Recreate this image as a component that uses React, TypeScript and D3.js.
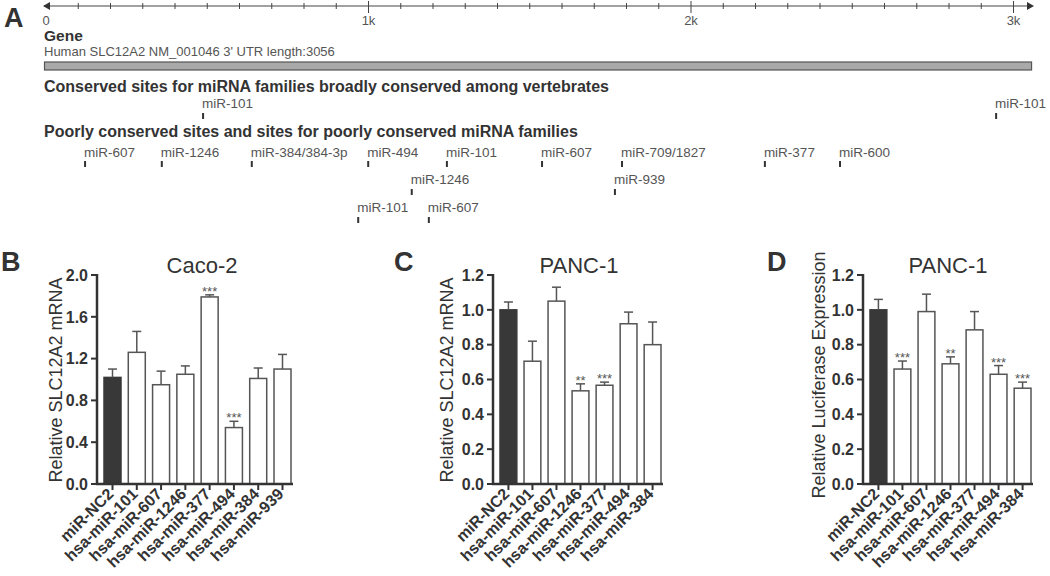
import { useEffect, useRef } from "react"
import * as d3 from "d3"

// panel A: 3' UTR map
const utrLength = 3056
const rulerTicks = [0, 1000, 2000, 3000]
const rulerLabels = ["0", "1k", "2k", "3k"]

const conservedSites = ["miR-101", "miR-101"]
const conservedPos = [484, 2943]

const poorSites = ["miR-607", "miR-1246", "miR-384/384-3p", "miR-494", "miR-101", "miR-1246", "miR-101", "miR-607", "miR-607", "miR-709/1827", "miR-939", "miR-377", "miR-600"]
const poorPos = [118, 356, 635, 996, 1240, 1131, 965, 1184, 1535, 1783, 1761, 2226, 2459]
const poorRow = [0, 0, 0, 0, 0, 1, 2, 2, 0, 0, 1, 0, 0]

// panel B: Caco-2
const caco2Groups = ["miR-NC2", "hsa-miR-101", "hsa-miR-607", "hsa-miR-1246", "hsa-miR-377", "hsa-miR-494", "hsa-miR-384", "hsa-miR-939"]
const caco2Mean = [1.02, 1.26, 0.95, 1.05, 1.79, 0.54, 1.01, 1.10]
const caco2Err = [0.08, 0.2, 0.13, 0.08, 0.02, 0.06, 0.1, 0.14]
const caco2Sig = ["", "", "", "", "***", "***", "", ""]

// panel C: PANC-1 mRNA
const panc1Groups = ["miR-NC2", "hsa-miR-101", "hsa-miR-607", "hsa-miR-1246", "hsa-miR-377", "hsa-miR-494", "hsa-miR-384"]
const panc1Mean = [1.0, 0.705, 1.05, 0.535, 0.567, 0.92, 0.8]
const panc1Err = [0.045, 0.115, 0.08, 0.04, 0.018, 0.067, 0.13]
const panc1Sig = ["", "", "", "**", "***", "", ""]

// panel D: PANC-1 luciferase
const lucMean = [1.0, 0.66, 0.99, 0.69, 0.885, 0.63, 0.55]
const lucErr = [0.06, 0.046, 0.1, 0.04, 0.105, 0.05, 0.035]
const lucSig = ["", "***", "", "**", "", "***", "***"]

const FONT = "'Liberation Sans', Arial, sans-serif"
const dark = "#333"

function drawPanel(svg, o) {
    let g = svg.append("g")
    let x = d3.scaleBand().domain(o.groups).range([o.left + 7, o.right - 2]).paddingInner(0.3),
        y = d3.scaleLinear().domain([0, o.max]).range([o.bottom, o.top])

    // bars
    g.selectAll("rect.bar")
        .data(o.groups)
        .enter()
        .append("rect")
        .attr("x", d => x(d))
        .attr("y", (d, i) => y(o.mean[i]))
        .attr("width", x.bandwidth())
        .attr("height", (d, i) => o.bottom - y(o.mean[i]))
        .attr("fill", (d, i) => i == 0 ? "#383838" : "#fff")
        .attr("stroke", (d, i) => i == 0 ? "#383838" : "#555")
        .attr("stroke-width", 1.5)

    // error bars (upper only)
    o.groups.forEach((d, i) => {
        let cx = x(d) + x.bandwidth() / 2,
            y0 = y(o.mean[i]),
            y1 = y(o.mean[i] + o.err[i])
        g.append("line").attr("x1", cx).attr("x2", cx).attr("y1", y0).attr("y2", y1)
            .attr("stroke", "#555").attr("stroke-width", 1.5)
        g.append("line").attr("x1", cx - 4.5).attr("x2", cx + 4.5).attr("y1", y1).attr("y2", y1)
            .attr("stroke", "#555").attr("stroke-width", 1.5)
        if (o.sig[i]) {
            g.append("text").attr("x", cx).attr("y", y1 + 1)
                .attr("text-anchor", "middle").attr("font-size", 13).attr("fill", "#555")
                .attr("font-family", FONT).text(o.sig[i])
        }
    })

    // y axis
    g.append("line").attr("x1", o.left).attr("x2", o.left).attr("y1", o.top - 1).attr("y2", o.bottom + 1)
        .attr("stroke", dark).attr("stroke-width", 2.5)
    o.ticks.forEach(t => {
        g.append("line").attr("x1", o.left - 6).attr("x2", o.left).attr("y1", y(t)).attr("y2", y(t))
            .attr("stroke", dark).attr("stroke-width", 2)
        g.append("text").attr("x", o.left - 9).attr("y", y(t)).attr("dy", "0.36em")
            .attr("text-anchor", "end").attr("font-size", 16).attr("font-weight", "bold")
            .attr("fill", dark).attr("font-family", FONT).text(d3.format(".1f")(t))
    })

    // x axis
    g.append("line").attr("x1", o.left - 1).attr("x2", o.right).attr("y1", o.bottom).attr("y2", o.bottom)
        .attr("stroke", dark).attr("stroke-width", 2.5)
    o.groups.forEach(d => {
        let cx = x(d) + x.bandwidth() / 2
        g.append("line").attr("x1", cx).attr("x2", cx).attr("y1", o.bottom).attr("y2", o.bottom + 6)
            .attr("stroke", dark).attr("stroke-width", 2)
        g.append("text")
            .attr("transform", `translate(${cx + 2}, ${o.bottom + 11}) rotate(-45)`)
            .attr("text-anchor", "end").attr("font-size", 16).attr("font-weight", "bold")
            .attr("fill", dark).attr("font-family", FONT).text(d)
    })

    // axis title, panel title, letter
    g.append("text")
        .attr("transform", `translate(${o.labelX}, ${o.labelY}) rotate(-90)`)
        .attr("text-anchor", "middle").attr("font-size", 18).attr("fill", dark)
        .attr("font-family", FONT).text(o.ylabel)
    g.append("text").attr("x", o.titleX).attr("y", 273)
        .attr("text-anchor", "middle").attr("font-size", 22).attr("fill", dark)
        .attr("font-family", FONT).text(o.title)
    g.append("text").attr("x", o.letterX).attr("y", 271)
        .attr("font-size", 27).attr("font-weight", "bold").attr("fill", dark)
        .attr("font-family", FONT).text(o.letter)
}

export default function App() {
    let svgRef = useRef(),
        width = 1050,
        height = 576

    useEffect(() => {
        let svg = d3.select(svgRef.current)
        svg.selectAll("*").remove()

        // ---- panel A ----
        let a = svg.append("g"),
            xs = d3.scaleLinear().domain([0, 3000]).range([46, 1013.5]),
            rulerY = 6

        a.append("text").attr("x", 4).attr("y", 27).attr("font-size", 27).attr("font-weight", "bold")
            .attr("fill", dark).attr("font-family", FONT).text("A")

        a.append("line").attr("x1", 44).attr("x2", 1030).attr("y1", rulerY).attr("y2", rulerY)
            .attr("stroke", "#444").attr("stroke-width", 1.2)
        a.append("path").attr("d", `M43,${rulerY} L50,${rulerY - 4} L50,${rulerY + 4} Z`).attr("fill", "#333")
        a.append("path").attr("d", `M1034,${rulerY} L1027,${rulerY - 4} L1027,${rulerY + 4} Z`).attr("fill", "#333")
        d3.range(100, 3100, 100).forEach(t => {
            let major = t % 1000 == 0
            a.append("line").attr("x1", xs(t)).attr("x2", xs(t))
                .attr("y1", major ? rulerY - 5 : rulerY - 3).attr("y2", major ? rulerY + 7 : rulerY + 3)
                .attr("stroke", "#444").attr("stroke-width", 1)
        })
        rulerTicks.forEach((t, i) => {
            a.append("text").attr("x", xs(t)).attr("y", 25).attr("text-anchor", "middle")
                .attr("font-size", 13).attr("fill", "#555").attr("font-family", FONT).text(rulerLabels[i])
        })

        a.append("text").attr("x", 44).attr("y", 40.5).attr("font-size", 15.5).attr("font-weight", "bold")
            .attr("fill", dark).attr("font-family", FONT).text("Gene")
        a.append("text").attr("x", 44).attr("y", 56).attr("font-size", 13)
            .attr("fill", "#555").attr("font-family", FONT).text("Human SLC12A2 NM_001046 3' UTR length:3056")
        a.append("rect").attr("x", xs(0) - 1.5).attr("y", 62).attr("width", xs(utrLength) - xs(0) + 1.5).attr("height", 8)
            .attr("fill", "#a9a9a9").attr("stroke", "#555").attr("stroke-width", 1.2)

        a.append("text").attr("x", 44).attr("y", 92).attr("font-size", 16).attr("font-weight", "bold")
            .attr("fill", dark).attr("font-family", FONT).text("Conserved sites for miRNA families broadly conserved among vertebrates")
        conservedSites.forEach((s, i) => {
            a.append("text").attr("x", xs(conservedPos[i])).attr("y", 108).attr("font-size", 13.5)
                .attr("fill", "#555").attr("font-family", FONT).text(s)
            a.append("rect").attr("x", xs(conservedPos[i])).attr("y", 113).attr("width", 2).attr("height", 6).attr("fill", "#333")
        })

        a.append("text").attr("x", 44).attr("y", 137).attr("font-size", 16).attr("font-weight", "bold")
            .attr("fill", dark).attr("font-family", FONT).text("Poorly conserved sites and sites for poorly conserved miRNA families")
        let rowLabelY = [157, 184, 212],
            rowTickY = [161, 189, 217]
        poorSites.forEach((s, i) => {
            let r = poorRow[i]
            a.append("text").attr("x", xs(poorPos[i])).attr("y", rowLabelY[r]).attr("font-size", 13.5)
                .attr("fill", "#555").attr("font-family", FONT).text(s)
            a.append("rect").attr("x", xs(poorPos[i])).attr("y", rowTickY[r]).attr("width", 2).attr("height", 6).attr("fill", "#333")
        })

        // ---- panels B, C, D ----
        drawPanel(svg, {
            groups: caco2Groups, mean: caco2Mean, err: caco2Err, sig: caco2Sig,
            left: 97, right: 293, top: 275, bottom: 484, max: 2.0, ticks: [0, 0.4, 0.8, 1.2, 1.6, 2.0],
            ylabel: "Relative SLC12A2 mRNA", labelX: 62, labelY: 380,
            title: "Caco-2", titleX: 202, letter: "B", letterX: 1
        })
        drawPanel(svg, {
            groups: panc1Groups, mean: panc1Mean, err: panc1Err, sig: panc1Sig,
            left: 493, right: 663, top: 275, bottom: 484, max: 1.2, ticks: [0, 0.2, 0.4, 0.6, 0.8, 1.0, 1.2],
            ylabel: "Relative SLC12A2 mRNA", labelX: 453, labelY: 380,
            title: "PANC-1", titleX: 579, letter: "C", letterX: 394
        })
        drawPanel(svg, {
            groups: panc1Groups, mean: lucMean, err: lucErr, sig: lucSig,
            left: 863, right: 1033, top: 275, bottom: 484, max: 1.2, ticks: [0, 0.2, 0.4, 0.6, 0.8, 1.0, 1.2],
            ylabel: "Relative Luciferase Expression", labelX: 825, labelY: 375,
            title: "PANC-1", titleX: 948, letter: "D", letterX: 767
        })
    }, [])

    return (
        <svg ref={svgRef} width={width} height={height} viewBox={`0 0 ${width} ${height}`}
            style={{ position: "absolute", left: 0, top: 0, background: "#fff" }} />
    )
}
